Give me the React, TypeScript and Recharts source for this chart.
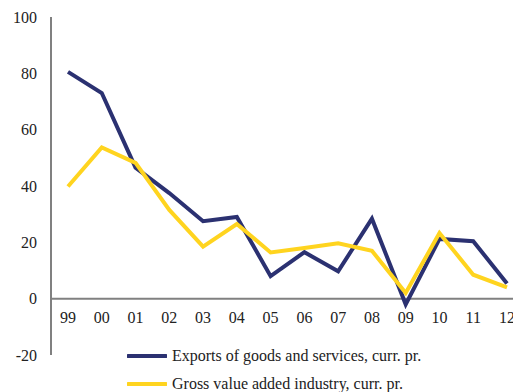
import React from 'react';
import { LineChart, Line, XAxis, YAxis, ReferenceLine, Legend } from 'recharts';

const years = ['99', '00', '01', '02', '03', '04', '05', '06', '07', '08', '09', '10', '11', '12'];
const exportsGrowth = [80.5, 73, 46.5, 37.5, 27.5, 29, 8, 16.5, 9.7, 28.4, -2, 21.2, 20.4, 5.4];
const industryGrowth = [39.8, 53.7, 48.2, 31.5, 18.5, 26.5, 16.4, 18, 19.7, 17, 2, 23.3, 8.5, 4];
const yTicks = [-20, 0, 20, 40, 60, 80, 100];

const NAVY = '#2B3171';
const YELLOW = '#FFD41F';
const GREY = '#808080';
const FONT = 'Liberation Serif, Times New Roman, serif';

const seriesInfo = [
  { key: 'exports', name: 'Exports of goods and services, curr. pr.', color: NAVY },
  { key: 'industry', name: 'Gross value added industry, curr. pr.', color: YELLOW },
];

const data = years.map((y, i) => ({
  year: y,
  exports: exportsGrowth[i],
  industry: industryGrowth[i],
}));

const YearTick = (props: any) => {
  const { x, y, payload } = props;
  // labels sit just under the zero line, not at the bottom of the plot
  return (
    <text x={x} y={y - 32} textAnchor="middle" fontSize={16} fontFamily={FONT} fill="#222">
      {payload.value}
    </text>
  );
};

const LegendBox = () => (
  <div style={{ fontFamily: FONT, fontSize: 16, color: '#222' }}>
    {seriesInfo.map((s) => (
      <div key={s.key} style={{ display: 'flex', alignItems: 'center', height: 28 }}>
        <svg width={40} height={6} style={{ marginRight: 5 }}>
          <line x1={1} y1={3} x2={39} y2={3} stroke={s.color} strokeWidth={4} strokeLinecap="round" />
        </svg>
        <span>{s.name}</span>
      </div>
    ))}
  </div>
);

export default function App() {
  return (
    <div style={{ position: 'absolute', left: 0, top: 0, width: 513, height: 392, overflow: 'hidden', background: '#fff', fontFamily: FONT }}>
      <LineChart width={524} height={392} data={data} margin={{ top: 17, right: 0, bottom: 0, left: 0 }}>
        <YAxis
          domain={[-20, 100]}
          ticks={yTicks}
          width={51}
          tickLine={false}
          tickSize={0}
          tickMargin={14}
          axisLine={{ stroke: GREY, strokeWidth: 2 }}
          tick={{ fontSize: 16, fontFamily: FONT, fill: '#222' }}
        />
        <XAxis
          dataKey="year"
          height={37}
          padding={{ left: 17, right: 17 }}
          axisLine={false}
          tickLine={false}
          tickSize={0}
          tickMargin={0}
          interval={0}
          tick={<YearTick />}
        />
        <ReferenceLine y={0} stroke={GREY} strokeWidth={2} />
        <Legend
          layout="horizontal"
          verticalAlign="middle"
          align="center"
          wrapperStyle={{ top: 342, left: 127, width: 'auto' }}
          content={<LegendBox />}
        />
        <Line type="linear" dataKey="exports" name={seriesInfo[0].name} stroke={NAVY} strokeWidth={4} dot={false} isAnimationActive={false} />
        <Line type="linear" dataKey="industry" name={seriesInfo[1].name} stroke={YELLOW} strokeWidth={4} dot={false} isAnimationActive={false} />
      </LineChart>
    </div>
  );
}
